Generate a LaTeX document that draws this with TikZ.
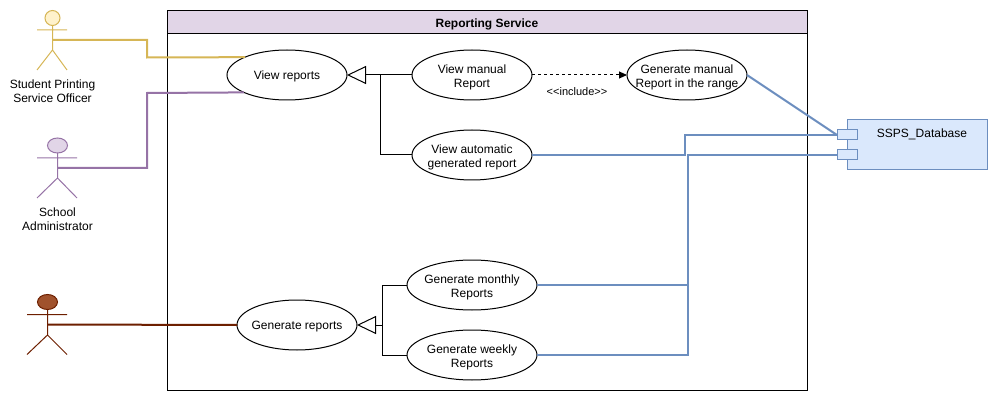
\documentclass[tikz,border=0pt]{standalone}
\usepackage{fontspec}
\setmainfont{Liberation Sans}
\usetikzlibrary{arrows.meta,shapes.geometric}
\definecolor{yl}{HTML}{D6B656}\definecolor{ylf}{HTML}{FFF2CC}
\definecolor{pu}{HTML}{9673A6}\definecolor{puf}{HTML}{E1D5E7}
\definecolor{br}{HTML}{6D1F00}\definecolor{brf}{HTML}{A0522D}
\definecolor{bl}{HTML}{6C8EBF}\definecolor{blf}{HTML}{DAE8FC}
\tikzset{
  every node/.style={font=\fontsize{12}{14}\selectfont,align=center,inner sep=0pt,outer sep=0pt},
  usecase/.style={draw=black,fill=white,ellipse,line width=1pt,minimum width=#1,minimum height=50pt},
  usecase/.default=120pt,
  uctext/.style={yshift=-1.5pt},
  uctwo/.style={yshift=-2.5pt},
  gen/.style={line width=1pt,-{Triangle[open,length=19pt,width=18pt,fill=white]}},
  plainline/.style={line width=1pt},
  link/.style={line width=2pt,color=bl},
  port/.style={draw=bl,fill=blf,line width=1pt,minimum width=20pt,minimum height=10pt},
  actorline/.style={line width=1pt},
}
\begin{document}
\begin{tikzpicture}[x=1pt,y=-1pt]
\useasboundingbox (0,0) rectangle (999,401);
% system boundary
\node[draw=black,fill=white,line width=1pt,minimum width=640pt,minimum height=380pt] (sys) at (487.5,200.5) {};
\node[draw=black,fill=puf,line width=1pt,minimum width=640pt,minimum height=23pt] (titlebar) at (487.5,22) {};
\node[font=\fontsize{12}{14}\selectfont\bfseries] (title) at (487,24.5) {Reporting Service};
% use cases
\node[usecase,label={[name=vrt,uctext]center:View reports}] (vr) at (287,75) {};
\node[usecase,label={[name=vmt,uctwo]center:View manual\\Report}] (vm) at (472,75) {};
\node[usecase,label={[name=gmt,uctwo]center:Generate manual\\Report in the range}] (gm) at (687,75) {};
\node[usecase,label={[name=vat,uctwo]center:View automatic\\generated report}] (va) at (472,155) {};
\node[usecase=130pt,label={[name=gmot,uctwo]center:Generate monthly\\Reports}] (gmo) at (472,285) {};
\node[usecase=130pt,label={[name=gwt,uctwo]center:Generate weekly\\Reports}] (gw) at (472,355) {};
\node[usecase,label={[name=grt,uctext]center:Generate reports}] (gr) at (297,325) {};
% database
\node[draw=bl,fill=blf,line width=1pt,minimum width=140pt,minimum height=50pt] (db) at (917.5,145) {};
\node (dbl) at (922,134.5) {SSPS\_Database};
\node[port] (p1) at (847,135) {};
\node[port] (p2) at (847,155) {};
% actors
\node[draw=yl,fill=ylf,ellipse,line width=1pt,minimum width=15pt,minimum height=15pt] (h1) at (52.5,18) {};
\coordinate (b1) at (52.5,40);
\draw[yl,actorline] (h1.south) -- (52.5,50) (37,30) -- (67,30) (37,70) -- (52.5,50) -- (67,70);
\node (l1) at (52.5,91.5) {Student Printing\\Service Officer};
\node[draw=pu,fill=puf,ellipse,line width=1pt,minimum width=20pt,minimum height=15pt] (h2) at (57.5,145.5) {};
\coordinate (b2) at (57.5,168);
\draw[pu,actorline] (h2.south) -- (57.5,178) (37,158) -- (77,158) (37,198) -- (57.5,178) -- (77,198);
\node (l2) at (57.5,219.5) {School\\Administrator};
\node[draw=br,fill=brf,ellipse,line width=1pt,minimum width=20pt,minimum height=15pt] (h3) at (47.5,302) {};
\coordinate (b3) at (47.5,324.5);
\draw[br,actorline] (h3.south) -- (47.5,335) (27,314.5) -- (67,314.5) (27,354.5) -- (47.5,335) -- (67,354.5);
% actor links
\draw[yl,line width=2pt] (b1) -- (147,40) -- (147,57.5) -- (vr.157.4);
\draw[pu,line width=2pt] (b2) -- (147,168) -- (147,93) -- (vr.202.6);
\draw[br,line width=2pt] (b3) -- (gr.west);
% generalisations
\draw[gen] (vm.west) -- (vr.east);
\draw[plainline] (va.west) -- (380,155) -- (380,75);
\draw[gen] (382,325) -- (gr.east);
\draw[plainline] (gmo.west) -- (382,285) -- (382,355) -- (gw.west);
% include
\draw[line width=1pt,dashed,dash pattern=on 3pt off 3pt,-{Triangle[length=8pt,width=7pt]}] (vm.east) -- (gm.west) node[midway,xshift=-2.5pt,yshift=-17pt,font=\fontsize{11}{12}\selectfont] (inc) {<{}<include>{}>};
% database links
\draw[link] (gm.east) -- (p1.west);
\draw[link] (va.east) -- (685,155) -- (685,135) -- (p1.west);
\draw[link] (gmo.east) -- (688,285) -- (688,155) -- (p2.west);
\draw[link] (gw.east) -- (688,355) -- (688,285);
\end{tikzpicture}
\end{document}
